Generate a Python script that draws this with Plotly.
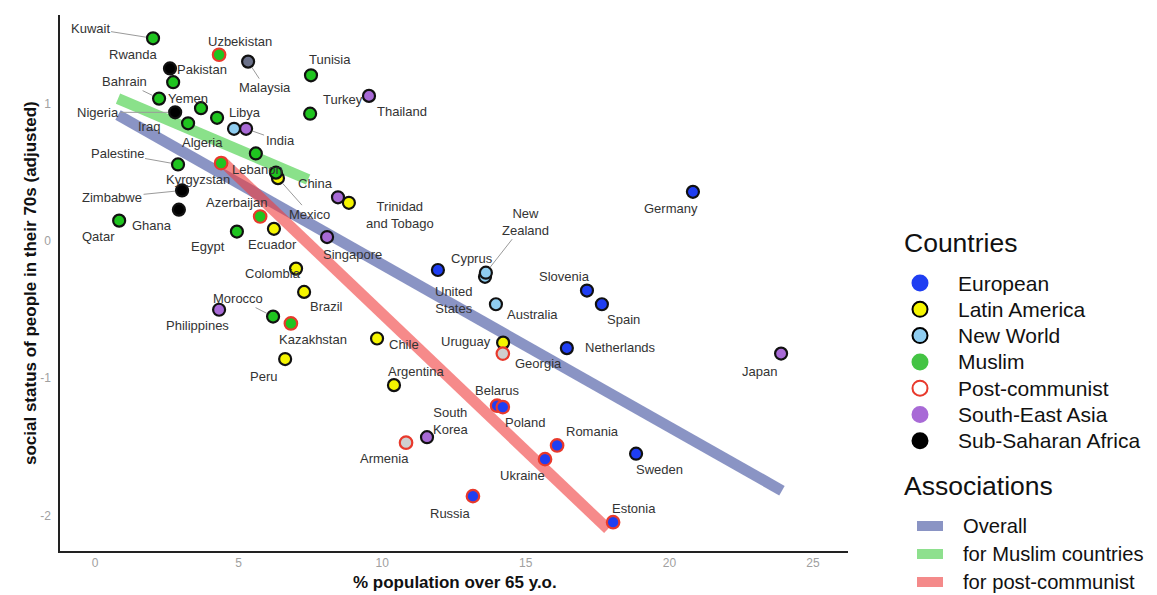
import plotly.graph_objects as go

# ---------------- data ----------------
countries = ["Kuwait", "Rwanda", "Pakistan", "Uzbekistan", "Malaysia", "Tunisia", "Turkey", "Thailand",
             "Bahrain", "Yemen", "Nigeria", "Iraq", "Libya", "India", "Algeria", "Lebanon", "Jordan",
             "China", "Trinidad<br>and Tobago", "Mexico", "Palestine", "Kyrgyzstan", "Zimbabwe", "Ghana",
             "Azerbaijan", "Qatar", "Egypt", "Ecuador", "Singapore", "Colombia", "Brazil", "Morocco",
             "Philippines", "Kazakhstan", "Peru", "Chile", "Argentina", "South<br>Korea", "Armenia",
             "Belarus", "Poland", "Romania", "Ukraine", "Russia", "Estonia", "Sweden", "Japan",
             "Netherlands", "Georgia", "Uruguay", "Australia", "Spain", "Slovenia", "United<br>States",
             "Cyprus", "New<br>Zealand", "Germany"]
pct_over_65 = [2.02, 2.61, 2.72, 4.32, 5.33, 7.52, 7.49, 9.54,
               2.23, 3.69, 2.79, 3.24, 4.84, 5.26, 4.25, 5.60, 6.30,
               8.46, 8.84, 6.37, 2.89, 4.39, 3.03, 2.92,
               5.75, 0.84, 4.94, 6.23, 8.08, 7.00, 7.28, 6.20,
               4.32, 6.82, 6.62, 9.82, 10.41, 11.56, 10.83,
               14.00, 14.20, 16.09, 15.67, 13.16, 18.04, 18.84, 23.89,
               16.43, 14.20, 14.21, 13.96, 17.65, 17.13, 13.58,
               11.94, 13.61, 20.82]
social_status = [1.48, 1.26, 1.16, 1.36, 1.31, 1.21, 0.93, 1.06,
                 1.04, 0.97, 0.94, 0.86, 0.82, 0.82, 0.90, 0.64, 0.50,
                 0.32, 0.28, 0.46, 0.56, 0.57, 0.37, 0.23,
                 0.18, 0.15, 0.07, 0.09, 0.03, -0.20, -0.37, -0.55,
                 -0.50, -0.60, -0.86, -0.71, -1.05, -1.43, -1.47,
                 -1.20, -1.21, -1.49, -1.59, -1.86, -2.05, -1.55, -0.82,
                 -0.78, -0.82, -0.74, -0.46, -0.46, -0.36, -0.26,
                 -0.21, -0.23, 0.36]
group = ["Muslim", "Sub-Saharan Africa", "Muslim", "Post-communist Muslim", "Muslim South-East Asia", "Muslim", "Muslim", "South-East Asia",
         "Muslim", "Muslim", "Sub-Saharan Africa", "Muslim", "New World", "South-East Asia", "Muslim", "Muslim", "Muslim",
         "South-East Asia", "Latin America", "Latin America", "Muslim", "Post-communist Muslim", "Sub-Saharan Africa", "Sub-Saharan Africa",
         "Post-communist Muslim", "Muslim", "Muslim", "Latin America", "South-East Asia", "Latin America", "Latin America", "Muslim",
         "South-East Asia", "Post-communist Muslim", "Latin America", "Latin America", "Latin America", "South-East Asia", "Post-communist",
         "Post-communist European", "Post-communist European", "Post-communist European", "Post-communist European",
         "Post-communist European", "Post-communist European", "European", "South-East Asia",
         "European", "Post-communist", "Latin America", "New World", "European", "European", "New World",
         "European", "New World", "European"]

# regression lines (end points)
assoc_names = ["Overall", "for Muslim countries", "for post-communist"]
assoc_x = [[0.80, 23.92], [0.80, 7.42], [4.39, 17.86]]
assoc_y = [[0.92, -1.82], [1.04, 0.45], [0.59, -2.10]]

legend_groups = ["European", "Latin America", "New World", "Muslim", "Post-communist",
                 "South-East Asia", "Sub-Saharan Africa"]

x_ticks = [0, 5, 10, 15, 20, 25]
y_ticks = [-2, -1, 0, 1]
y_tick_text = ["-2", "-1", "0", "1"]

# ---------------- styles ----------------
fill = {"European": "#1f3ef2", "Latin America": "#f5f500", "New World": "#8fcdf0",
        "Muslim": "#1fc41f", "South-East Asia": "#a86ad6", "Sub-Saharan Africa": "#000000",
        "Muslim South-East Asia": "#6b7189",
        "Post-communist": "#cfcfcf", "Post-communist Muslim": "#1fc41f",
        "Post-communist European": "#1f3ef2"}
legend_style = {"European": ("#1f3ef2", "#1f3ef2"), "Latin America": ("#f5f500", "#000000"),
                "New World": ("#8fcdf0", "#000000"), "Muslim": ("#44c444", "#44c444"),
                "Post-communist": ("#ffffff", "#e8392c"), "South-East Asia": ("#a86ad6", "#a86ad6"),
                "Sub-Saharan Africa": ("#000000", "#000000")}
assoc_colors = ["rgba(60,77,157,0.6)", "rgba(60,205,60,0.6)", "rgba(240,60,60,0.6)"]
assoc_legend_colors = ["#8a94c4", "#8ee08e", "#f48a8a"]

# label offsets in pixels (dx right, dy down) and whether a leader line is drawn
label_offsets = {
    "Kuwait": (-63, -10, True), "Rwanda": (-37, -14, False), "Pakistan": (29, -13, False),
    "Uzbekistan": (21, -13, False), "Malaysia": (17, 26, True), "Tunisia": (19, -16, False),
    "Turkey": (33, -14, False), "Thailand": (33, 16, False), "Bahrain": (-35, -17, True),
    "Yemen": (-13, -10, False), "Nigeria": (-77, 0, True), "Iraq": (-39, 3, False),
    "Libya": (11, -16, False), "India": (34, 12, True), "Algeria": (-15, 25, False),
    "Lebanon": (2, 16, False), "China": (-22, -14, False), "Trinidad<br>and Tobago": (51, 12, False),
    "Mexico": (32, 36, True), "Palestine": (-61, -11, True), "Kyrgyzstan": (-23, 16, False),
    "Zimbabwe": (-70, 7, True), "Ghana": (-27, 16, False), "Azerbaijan": (-24, -14, False),
    "Qatar": (-21, 16, False), "Egypt": (-29, 15, False), "Ecuador": (-1, 16, False),
    "Singapore": (25, 17, False), "Colombia": (-23, 5, False), "Brazil": (22, 15, False),
    "Morocco": (-35, -18, True), "Philippines": (-22, 16, False), "Kazakhstan": (22, 16, False),
    "Peru": (-22, 17, False), "Chile": (27, 6, False), "Argentina": (22, -14, False),
    "South<br>Korea": (23, -16, False), "Armenia": (-22, 16, False), "Belarus": (0, -15, False),
    "Poland": (22, 15, False), "Romania": (35, -14, False), "Ukraine": (-23, 16, False),
    "Russia": (-22, 17, False), "Estonia": (21, -14, False), "Sweden": (23, 16, False),
    "Japan": (-22, 18, False), "Netherlands": (54, -1, False), "Georgia": (36, 10, False),
    "Uruguay": (-37, -1, False), "Australia": (37, 10, False), "Spain": (22, 15, False),
    "Slovenia": (-22, -14, False), "United<br>States": (-31, 23, False), "Cyprus": (34, -11, False),
    "New<br>Zealand": (40, -51, True), "Germany": (-22, 17, False),
}

FONT = "Liberation Sans, Arial, sans-serif"
OFF = 8                       # page body margin of the html page
W, H = 1157 - OFF, 595 - OFF  # figure size so that it ends at the window edge
PL, PR, PT, PB = 60, 848, 15, 551   # plot area in window pixels
L, R, T, B = PL - OFF, W - (PR - OFF), PT - OFF, H - (PB - OFF)
PW, PH = W - L - R, H - T - B


def px(xp):  # window pixel x -> paper
    return (xp - OFF - L) / PW


def py(yp):  # window pixel y -> paper
    return (H - B - (yp - OFF)) / PH


fig = go.Figure()

# association lines
for name, xs, ys, col in zip(assoc_names, assoc_x, assoc_y, assoc_colors):
    fig.add_trace(go.Scatter(x=xs, y=ys, mode="lines", line=dict(color=col, width=11),
                             name=name, hoverinfo="skip", showlegend=False))

# data points, one trace per fill group
for g in fill:
    idx = [i for i, gg in enumerate(group) if gg == g]
    if not idx:
        continue
    postcom = g.startswith("Post-communist")
    fig.add_trace(go.Scatter(
        x=[pct_over_65[i] for i in idx], y=[social_status[i] for i in idx], mode="markers",
        marker=dict(size=12.5 if postcom else 12, color=fill[g],
                    line=dict(color="#e8392c" if postcom else "#111111", width=2.2)),
        text=[countries[i] for i in idx], hoverinfo="text", showlegend=False, name=g))

# labels
for c, xv, yv in zip(countries, pct_over_65, social_status):
    if c not in label_offsets:
        continue
    dx, dy, leader = label_offsets[c]
    if leader:
        fig.add_annotation(x=xv, y=yv, text=c, showarrow=True, ax=dx, ay=dy, arrowhead=0,
                           arrowwidth=1, arrowcolor="#9a9a9a", standoff=7,
                           font=dict(family=FONT, size=13, color="#333"))
    else:
        fig.add_annotation(x=xv, y=yv, text=c, showarrow=False, xshift=dx, yshift=-dy,
                           font=dict(family=FONT, size=13, color="#333"))

# axis titles
fig.add_annotation(xref="paper", yref="paper", x=px(455), y=py(582), xanchor="center", yanchor="middle",
                   text="<b>% population over 65 y.o.</b>", showarrow=False,
                   font=dict(family=FONT, size=17, color="#111"))
fig.add_annotation(xref="paper", yref="paper", x=px(30), y=py(283), xanchor="center", yanchor="middle",
                   text="<b>social status of people in their 70s (adjusted)</b>", showarrow=False,
                   textangle=-90, font=dict(family=FONT, size=17, color="#111"))

# ---------------- legend (drawn in paper space) ----------------
title_font = dict(family=FONT, size=26.5, color="#111")
item_font = dict(family=FONT, size=21, color="#111")
assoc_font = dict(family=FONT, size=20.2, color="#111")
fig.add_annotation(xref="paper", yref="paper", x=px(902), y=py(243), xanchor="left", yanchor="middle",
                   text="Countries", showarrow=False, font=title_font)
for k, g in enumerate(legend_groups):
    yc = 283 + k * 26.3
    fc, lc = legend_style[g]
    fig.add_shape(type="circle", xref="paper", yref="paper", xsizemode="pixel", ysizemode="pixel",
                  xanchor=px(920), yanchor=py(yc), x0=-7.5, x1=7.5, y0=-7.5, y1=7.5,
                  fillcolor=fc, line=dict(color=lc, width=2))
    fig.add_annotation(xref="paper", yref="paper", x=px(956), y=py(yc), xanchor="left", yanchor="middle",
                       text=g, showarrow=False, font=item_font)
fig.add_annotation(xref="paper", yref="paper", x=px(902), y=py(486), xanchor="left", yanchor="middle",
                   text="Associations", showarrow=False, font=title_font)
for k, (name, col) in enumerate(zip(assoc_names, assoc_legend_colors)):
    yc = 526 + k * 28
    fig.add_shape(type="rect", xref="paper", yref="paper", xsizemode="pixel", ysizemode="pixel",
                  xanchor=px(930), yanchor=py(yc), x0=-13, x1=13, y0=-5, y1=5,
                  fillcolor=col, line=dict(width=0))
    fig.add_annotation(xref="paper", yref="paper", x=px(961), y=py(yc), xanchor="left", yanchor="middle",
                       text=name, showarrow=False, font=assoc_font)

fig.update_layout(
    width=W, height=H, autosize=False,
    margin=dict(l=L, r=R, t=T, b=B),
    plot_bgcolor="white", paper_bgcolor="white",
    font=dict(family=FONT),
    showlegend=False,
    xaxis=dict(range=[-1.22, 26.22], showgrid=False, zeroline=False, showline=True, automargin=False,
               linecolor="#222", linewidth=1.5, ticks="", tickvals=x_ticks,
               tickfont=dict(size=12, color="#a0a0a0")),
    yaxis=dict(range=[-2.26, 1.65], showgrid=False, zeroline=False, showline=True, automargin=False,
               linecolor="#222", linewidth=1.5, ticks="", tickvals=y_ticks, ticktext=y_tick_text,
               tickfont=dict(size=12, color="#a0a0a0"), ticklabelstandoff=5),
)

fig.write_html("out.html")
